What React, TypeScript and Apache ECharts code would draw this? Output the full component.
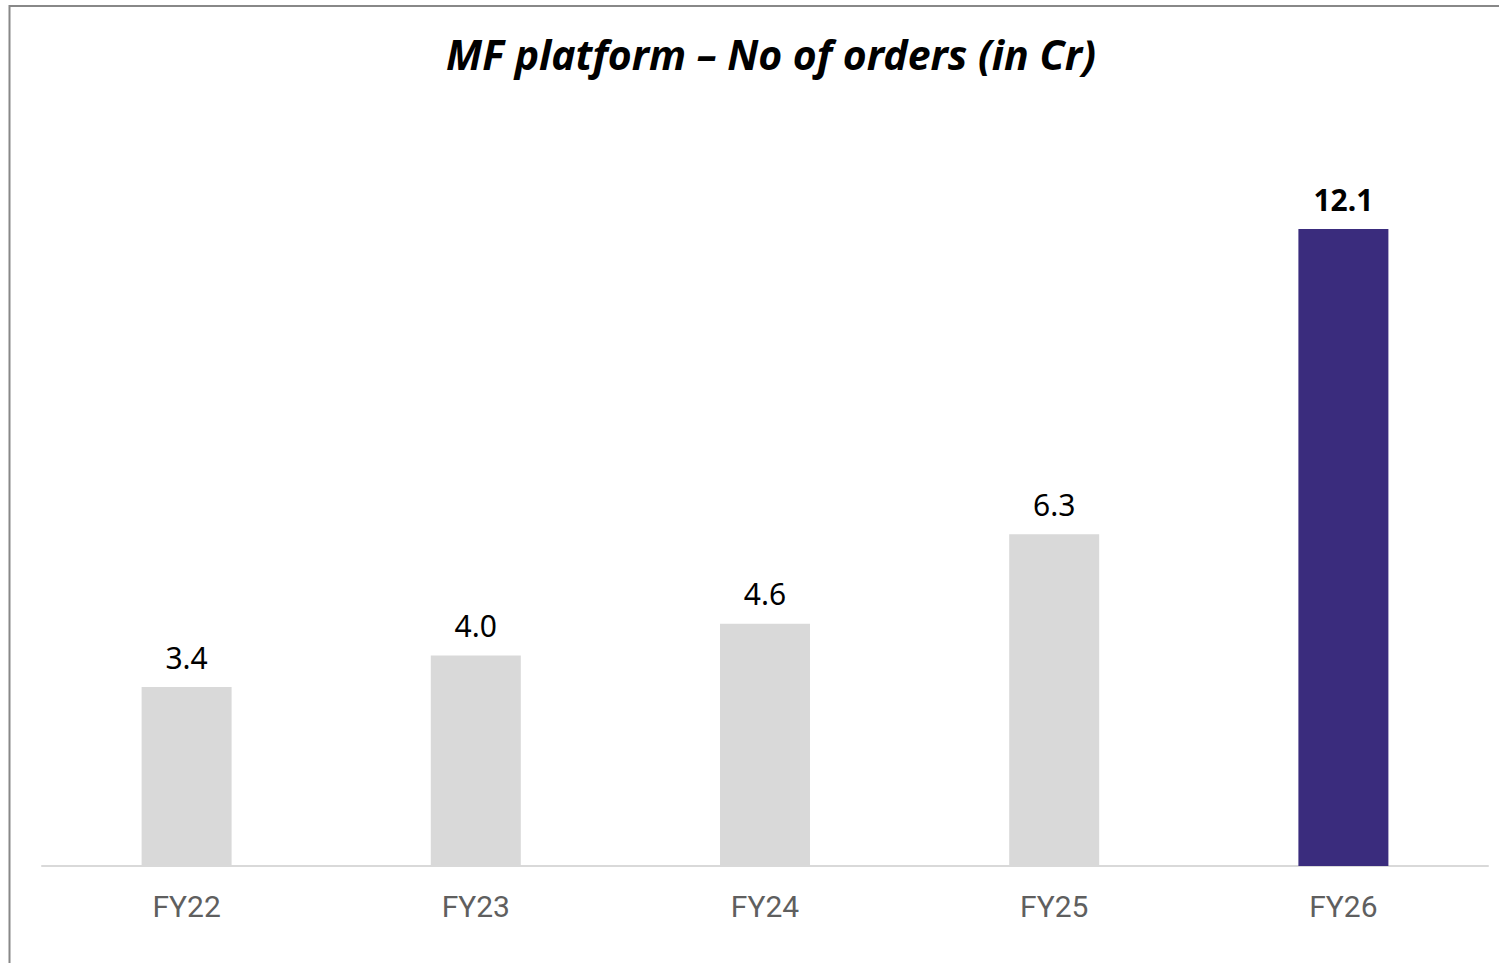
import React, { useEffect, useRef } from "react";
import * as echarts from "echarts";

const categories = ["FY22", "FY23", "FY24", "FY25", "FY26"];
const orders = [3.4, 4.0, 4.6, 6.3, 12.1];
const highlightIndex = 4;

export default function App() {
  const ref = useRef<HTMLDivElement>(null);
  useEffect(() => {
    if (!ref.current) return;
    const chart = echarts.init(ref.current, null, { renderer: "svg" });
    chart.setOption({
      animation: false,
      backgroundColor: "#ffffff",
      title: {
        text: "MF platform – No of orders (in Cr)",
        left: 766,
        top: 28,
        textAlign: "center",
        textStyle: {
          fontFamily: "Noto Sans",
          fontStyle: "italic",
          fontWeight: "bold",
          fontSize: 41,
          color: "#000000",
        },
      },
      graphic: [
        {
          type: "rect",
          shape: { x: 9.5, y: 6, width: 1600, height: 1100 },
          style: { fill: "none", stroke: "#888888", lineWidth: 2 },
          silent: true,
        },
      ],
      grid: { left: 42, right: 11, top: 229, bottom: 97, containLabel: false },
      xAxis: {
        type: "category",
        data: categories,
        axisLine: { lineStyle: { color: "#d9d9d9", width: 2 } },
        axisTick: { show: false },
        axisLabel: {
          color: "#5f5f5f",
          fontSize: 30,
          fontFamily: "Roboto",
          margin: 25,
        },
      },
      yAxis: {
        type: "value",
        min: 0,
        max: 12.1,
        show: false,
        splitLine: { show: false },
      },
      series: [
        {
          type: "bar",
          barWidth: 90,
          data: orders.map((v, i) => ({
            value: v,
            itemStyle: { color: i === highlightIndex ? "#3a2c7d" : "#d9d9d9" },
            label: {
              fontWeight: i === highlightIndex ? "bold" : "normal",
            },
          })),
          label: {
            show: true,
            position: "top",
            distance: 15,
            color: "#000000",
            fontSize: 30,
            fontFamily: "Noto Sans",
            formatter: (p: any) => Number(p.value).toFixed(1),
          },
        },
      ],
    });
    return () => chart.dispose();
  }, []);
  return (
    <div
      ref={ref}
      style={{ position: "fixed", left: 0, top: 0, width: 1499, height: 963 }}
    />
  );
}
